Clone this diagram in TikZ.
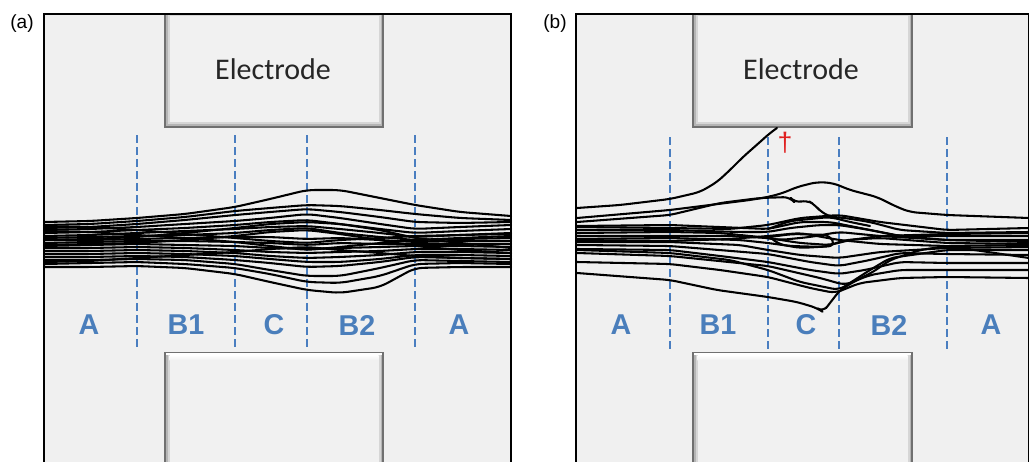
\documentclass[tikz,border=0pt]{standalone}
\usepackage{fontspec}
\setmainfont{Liberation Sans}
\newfontfamily\elfont{Carlito}
\definecolor{panelbg}{HTML}{F0F0F0}
\definecolor{zoneblue}{HTML}{4A7EBB}
\definecolor{dashblue}{HTML}{4A7EC0}
\definecolor{eledge}{HTML}{707070}
\definecolor{elbevA}{HTML}{B5B5B5}
\definecolor{elbevB}{HTML}{D6D6D6}
\definecolor{elface}{HTML}{F1F1F1}
\definecolor{daggerred}{HTML}{E02020}
\begin{document}
\begin{tikzpicture}[x=0.75pt,y=-0.75pt,
  traj/.style={line width=1.55pt,line join=round,line cap=round,black},
  zoneline/.style={dashblue,line width=1.1pt,dash pattern=on 6pt off 3pt},
  zonelabel/.style={text=zoneblue,font=\fontsize{21.5}{21.5}\selectfont\bfseries,inner sep=0pt},
  eltext/.style={font=\elfont\fontsize{22.5}{22.5}\selectfont,inner sep=0pt,text=black!85},
  panellabel/.style={font=\fontsize{14.3}{14.3}\selectfont,inner sep=0pt}]
\useasboundingbox (0,0) rectangle (1029,461);
\clip (0,0) rectangle (1029,461);

% ---------- panels ----------
\fill[panelbg] (44,14) rectangle (511,470);
\draw[line width=1.1pt] (44,470) -- (44,14) -- (511,14) -- (511,470);
\draw[line width=2.2pt] (44,470) -- (44,13.5);
\fill[panelbg] (576,14) rectangle (1040,470);
\draw[line width=1.1pt] (576,470) -- (576,14) -- (1028.5,14) -- (1028.5,470);
\draw[line width=2.2pt] (576,470) -- (576,13.5);

\node[panellabel] (la) at (22,24) {(a)};
\node[panellabel] (lb) at (555,24) {(b)};

% ---------- electrodes ----------
\foreach \xa/\xb in {164/384, 692/913}{
  % top electrode
  \fill[eledge] (\xa,15) rectangle (\xb,128);
  \fill[elbevA] (\xa+2,15) rectangle (\xb-2,126);
  \fill[elbevB] (\xa+3.5,15) rectangle (\xb-3.5,124);
  \fill[elface] (\xa+5.5,15.5) rectangle (\xb-5.5,122);
  % bottom electrode
  \fill[eledge] (\xa,352) rectangle (\xb,470);
  \fill[elbevA] (\xa+2,353) rectangle (\xb-2,470);
  \fill[elbevB] (\xa+3.5,353) rectangle (\xb-3.5,470);
  \fill[white] (\xa+2,352.8) rectangle (\xb-2,355);
  \shade[top color=white,bottom color=elface] (\xa+5.5,355) rectangle (\xb-5.5,360);
  \fill[elface] (\xa+5.5,360) rectangle (\xb-5.5,470);
}
\node[eltext] (ea) at (273,69) {Electrode};
\node[eltext] (eb) at (801,69) {Electrode};

% ---------- zone lines (a) ----------
\foreach \x in {137,235,307,415}{
  \draw[zoneline] (\x,135) -- (\x,350);
}
% ---------- zone lines (b) ----------
\foreach \x in {670,768,839,947}{
  \draw[zoneline] (\x,137) -- (\x,350);
}

% ---------- zone labels ----------
\node[zonelabel] (za1) at (89,325) {A};
\node[zonelabel] (zb1) at (186,325) {B1};
\node[zonelabel] (zc)  at (274,325) {C};
\node[zonelabel] (zb2) at (357,325) {B2};
\node[zonelabel] (za2) at (459,325) {A};
\node[zonelabel] (zbA1) at (621,325) {A};
\node[zonelabel] (zbB1) at (718,325) {B1};
\node[zonelabel] (zbC)  at (806,325) {C};
\node[zonelabel] (zbB2) at (889,325) {B2};
\node[zonelabel] (zbA2) at (991,325) {A};

% ---------- trajectories (a) ----------
\begin{scope}[rounded corners=6pt]
\foreach \ya/\yb/\yc/\yd/\ye/\yf/\yg/\yh/\yi/\yj/\yk/\yl in {
 222/221/218/214/207/199/190/190/198/205/212/216,
 225/224/221/217/211/208/205/206/210/214/218/220,
 228/227/224/220/215/212/209/212/217/222/223/222,
 230/229/227/224/221/218/214/218/224/229/227/225,
 233/232/230/228/225/222/220/224/229/233/231/229,
 236/235/233/231/229/227/226/229/233/237/235/233,
 238/237/236/235/233/230/228/233/237/240/239/238,
 240/240/239/238/237/237/239/238/240/242/241/241,
 243/242/241/241/242/243/245/243/244/244/244/244,
 246/245/244/245/246/248/249/248/247/246/246/247,
 248/248/247/248/250/252/253/252/251/249/249/250,
 251/251/250/251/253/256/258/257/255/252/252/253,
 254/254/253/254/256/259/262/262/259/255/255/256,
 257/257/256/257/260/263/267/266/262/257/258/259,
 260/260/259/260/264/270/276/276/268/260/261/262,
 264/263/262/264/268/274/282/283/276/264/263/264,
 267/267/266/268/274/282/290/293/287/268/267/267,
 240/239/237/233/228/224/222/224/230/238/243/248,
 245/244/243/240/236/232/230/234/240/246/250/253,
 231/232/235/238/242/246/250/247/243/240/238/236,
 226/227/230/234/238/241/243/240/238/236/235/234,
 262/261/258/255/252/249/247/250/253/256/258/259}{
  \draw[traj] (44,\ya) -- (90,\yb) -- (137,\yc) -- (185,\yd) -- (235,\ye) -- (270,\yf)
     -- (307,\yg) -- (340,\yh) -- (380,\yi) -- (415,\yj) -- (460,\yk) -- (511,\yl);
}
\end{scope}

% ---------- trajectories (b) ----------
\begin{scope}[rounded corners=5pt]
% escaping trajectory
\draw[traj] (577,208) -- (620,205) -- (670,199) -- (700,192) -- (717,182) -- (730,170)
  -- (743,157) -- (760,142) -- (770,133) -- (777,128);
% top bump
\draw[traj] (577,218) -- (670,210) -- (750,200) -- (768,197) -- (783,193) -- (797,187)
  -- (817,182) -- (833,183) -- (850,190) -- (877,197) -- (897,207) -- (910,212)
  -- (947,215) -- (1029,218);
\draw[traj] (577,222) -- (670,215) -- (720,203) -- (760,198) -- (790,197) -- (795,203)
  -- (807,200) -- (815,205) -- (822,213) -- (832,217) -- (845,218) -- (870,222)
  -- (900,230) -- (947,233) -- (1029,232);
\draw[traj] (577,227) -- (670,228) -- (730,229) -- (768,225) -- (800,218) -- (839,215)
  -- (880,222) -- (947,230) -- (1029,228);
\draw[traj] (577,230) -- (670,230) -- (740,232) -- (768,232) -- (790,228) -- (820,225)
  -- (839,225) -- (870,230) -- (900,236) -- (947,236) -- (1029,236);
\draw[traj] (577,233) -- (670,232) -- (720,233) -- (760,237) -- (780,240) -- (810,237)
  -- (839,232) -- (880,236) -- (947,240) -- (1029,240);
\draw[traj] (577,236) -- (670,236) -- (730,236) -- (768,238) -- (800,243) -- (830,245)
  -- (850,240) -- (880,236) -- (947,234) -- (1029,233);
\draw[traj] (577,239) -- (670,238) -- (740,240) -- (768,243) -- (790,246) -- (825,247)
  -- (845,240) -- (880,238) -- (947,243) -- (1029,244);
\draw[traj] (577,242) -- (670,242) -- (740,245) -- (768,250) -- (800,255) -- (839,258)
  -- (880,252) -- (947,248) -- (1029,247);
\draw[traj] (577,245) -- (670,246) -- (768,254) -- (810,262) -- (839,266) -- (870,260)
  -- (900,253) -- (947,254) -- (1029,255);
\draw[traj] (577,249) -- (670,250) -- (720,256) -- (768,262) -- (810,270) -- (839,274)
  -- (865,270) -- (900,262) -- (947,263) -- (1029,263);
\draw[traj] (577,253) -- (670,256) -- (768,266) -- (820,278) -- (845,285) -- (870,275)
  -- (900,270) -- (947,270) -- (1029,270);
\draw[traj] (577,262) -- (670,264) -- (720,270) -- (768,277) -- (810,288) -- (835,293)
  -- (860,283) -- (900,278) -- (947,277) -- (1029,278);
\draw[traj] (577,273) -- (630,277) -- (670,280) -- (717,290) -- (768,297) -- (797,302)
  -- (817,308) -- (823,312) -- (830,303) -- (840,290) -- (857,280) -- (873,272)
  -- (890,260) -- (920,250) -- (947,246) -- (1029,245);
\draw[traj] (577,226) -- (670,225) -- (768,229) -- (800,222) -- (830,222) -- (860,228)
  -- (900,236) -- (947,240) -- (1029,242);
\draw[traj] (577,250) -- (670,253) -- (730,260) -- (768,270) -- (800,282) -- (839,290)
  -- (870,270) -- (890,258) -- (947,250) -- (1029,250);
\draw[traj] (577,240) -- (670,241) -- (730,239) -- (768,236) -- (800,233) -- (839,240)
  -- (880,244) -- (947,246) -- (1029,258);
% loops in zone C
\draw[traj] (768,229) -- (790,221) -- (830,217) -- (850,222) -- (870,226);
\draw[traj] (770,237) -- (792,234) -- (830,235) -- (835,246) -- (800,248) -- (778,244) -- (770,237);
\end{scope}

\node[text=daggerred,font=\fontsize{20}{20}\selectfont,inner sep=0pt] (dag) at (785,143) {†};
\end{tikzpicture}
\end{document}
